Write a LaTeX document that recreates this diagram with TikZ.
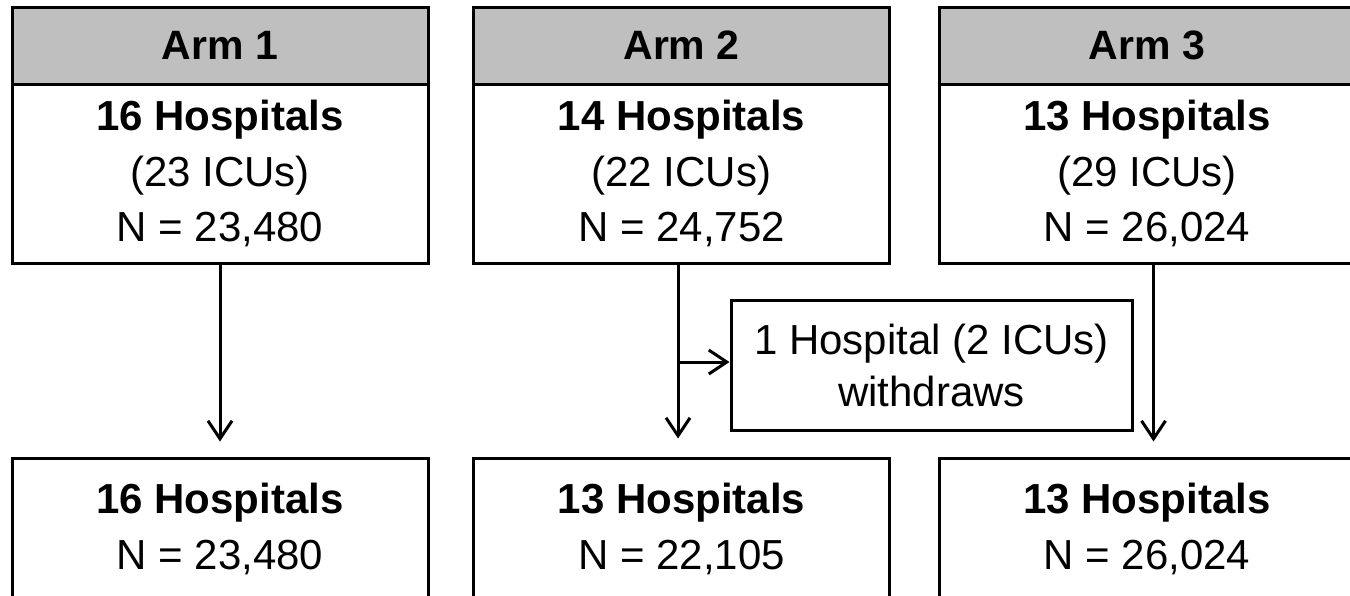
\documentclass[tikz,border=0pt]{standalone}
\usepackage{fontspec}
\setmainfont{Liberation Sans}
\usetikzlibrary{arrows.meta}

\begin{document}
\begin{tikzpicture}[x=1pt,y=-1pt,line width=3pt,
        armhead/.style={draw,fill=black!25,minimum width=416pt,minimum height=77pt,inner sep=0pt,font=\fontsize{41}{49}\selectfont\bfseries},
        armbox/.style={draw,minimum width=416pt,minimum height=179pt,inner sep=0pt,align=center,font=\fontsize{42}{55.5}\selectfont,execute at begin node={\rule{0pt}{41pt}}},
        endbox/.style={draw,minimum width=416pt,minimum height=142pt,inner sep=0pt,align=center,font=\fontsize{42}{56}\selectfont},
        flow/.style={-{Straight Barb[length=18pt,width=24pt]}}]
    \path[use as bounding box,clip] (0,0) rectangle (1350,595);
    % arms
    \node[armhead] (arm1) at (220,45.5) {Arm 1};
    \node[armhead] (arm2) at (681.5,45.5) {Arm 2};
    \node[armhead] (arm3) at (1147,45.5) {Arm 3};
    \node[armbox] (top1) at (220,173.5) {\textbf{16 Hospitals}\\(23 ICUs)\\N = 23,480};
    \node[armbox] (top2) at (681.5,173.5) {\textbf{14 Hospitals}\\(22 ICUs)\\N = 24,752};
    \node[armbox] (top3) at (1147,173.5) {\textbf{13 Hospitals}\\(29 ICUs)\\N = 26,024};
    % withdrawal
    \node[draw,minimum width=401pt,minimum height=130pt,inner sep=0pt,align=center,font=\fontsize{42}{52}\selectfont] (wd) at (931.5,365) {1 Hospital (2 ICUs)\\withdraws};
    % analysed
    \node[endbox] (bot1) at (220,529) {\textbf{16 Hospitals}\\N = 23,480};
    \node[endbox] (bot2) at (681.5,529) {\textbf{13 Hospitals}\\N = 22,105};
    \node[endbox] (bot3) at (1147,529) {\textbf{13 Hospitals}\\N = 26,024};
    \draw[flow,shorten >=15pt] (top1.south) -- (bot1.north);
    \draw[flow,shorten >=18pt] ([xshift=-3.5pt]top2.south) -- ([xshift=-3.5pt]bot2.north);
    \draw[flow,shorten >=15pt] ([xshift=6.5pt]top3.south) -- ([xshift=6.5pt]bot3.north);
    \coordinate (split) at ([xshift=-3.5pt,yshift=3pt]top2.south |- wd.west);
    \draw[flow] (split) -- (split -| wd.west);
\end{tikzpicture}
\end{document}
